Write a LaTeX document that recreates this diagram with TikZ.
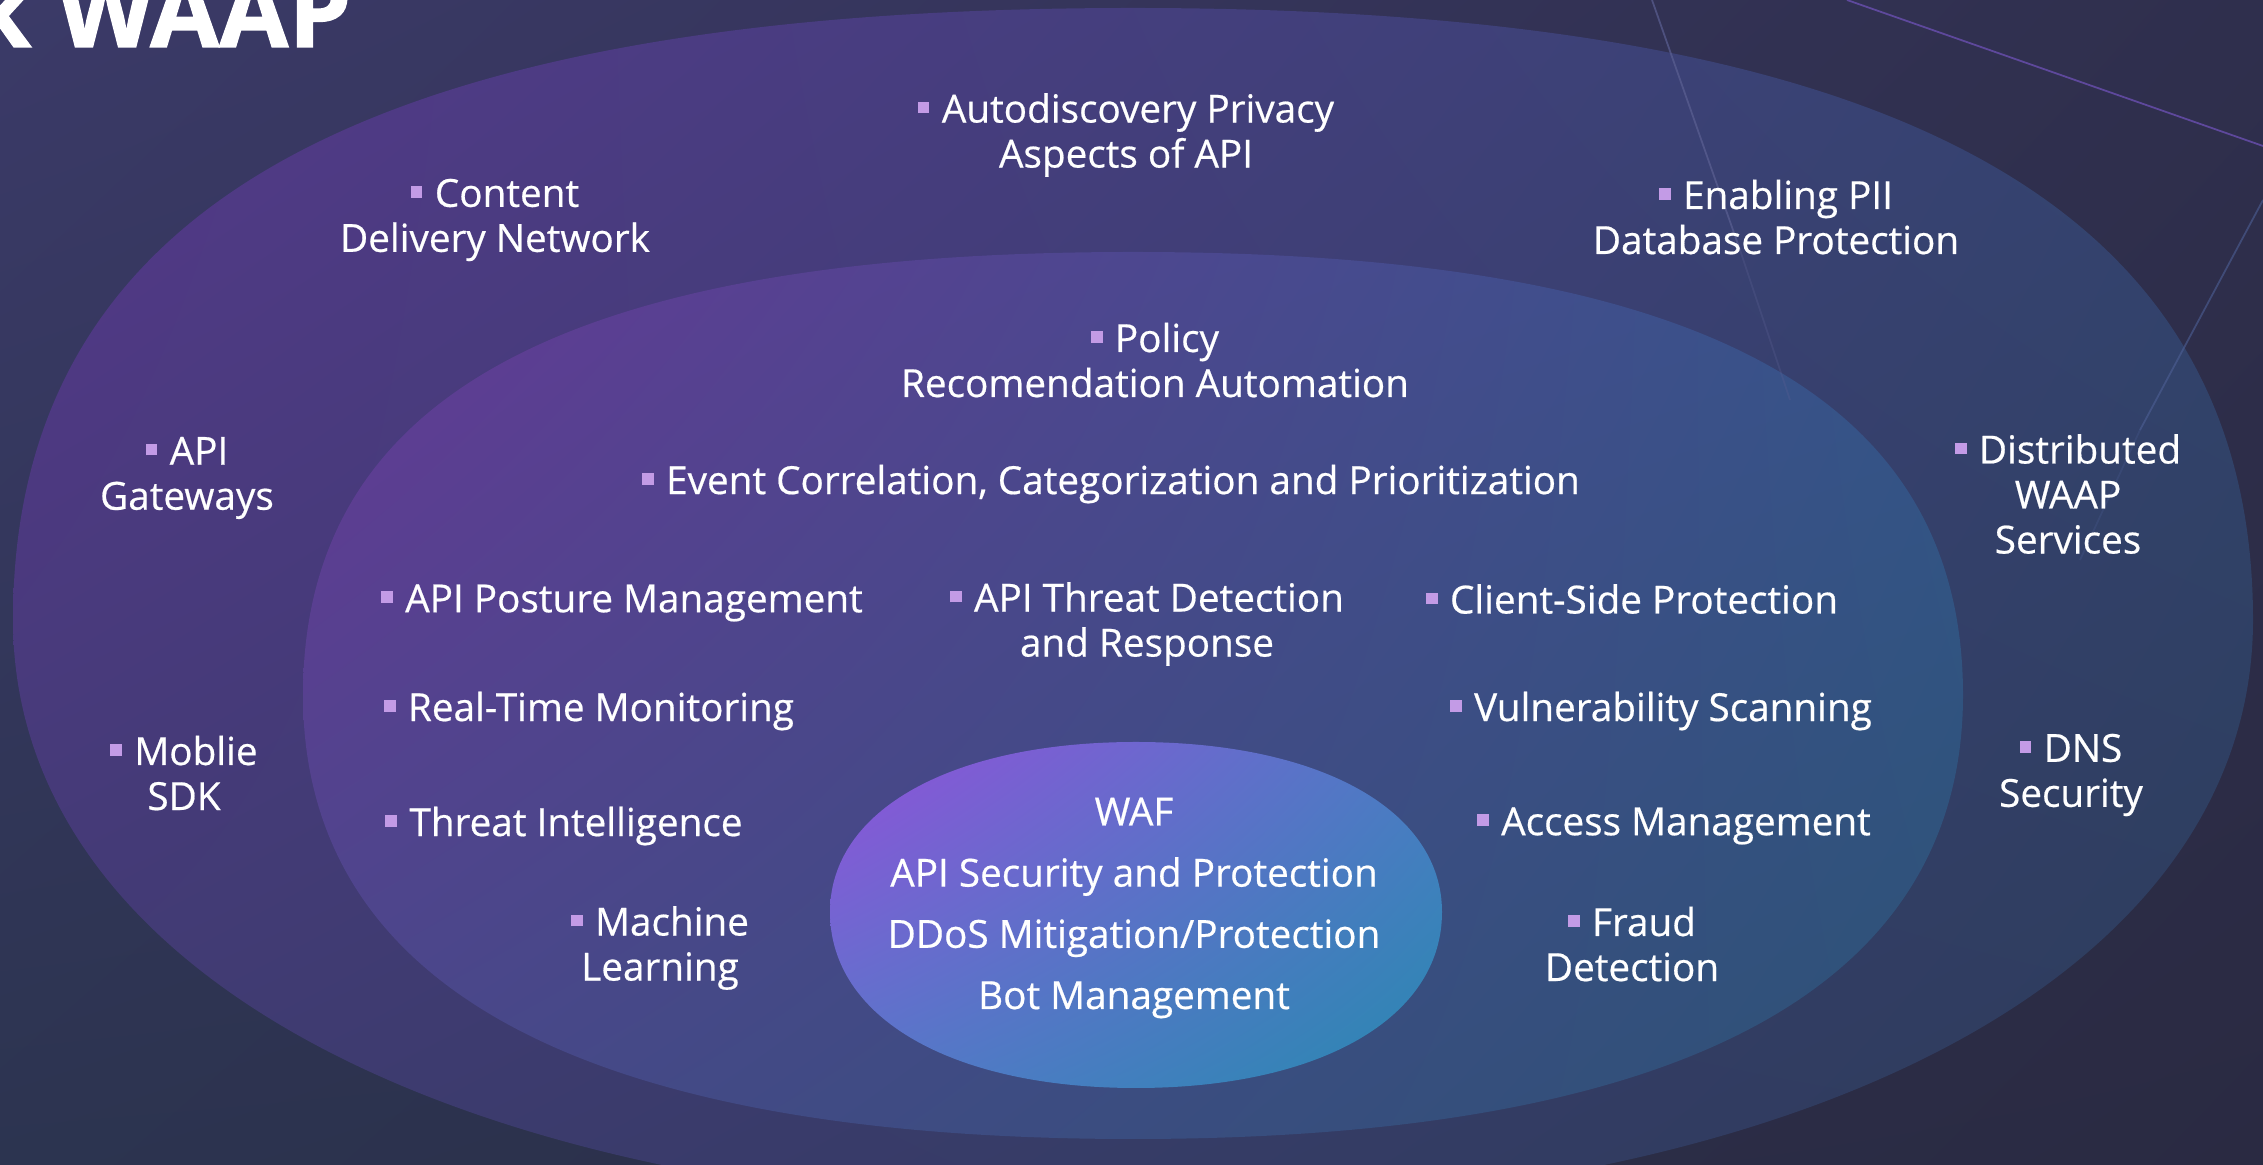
\documentclass[tikz,border=0pt]{standalone}
\usepackage{fontspec}
\setmainfont{Open Sans}
\newfontfamily\lblfont{Open Sans}[FakeBold=0.5]
\newfontfamily\ttlfont{Open Sans Bold}[FakeBold=1.2]
\usetikzlibrary{shadings}
\definecolor{bulletc}{HTML}{C39BE6}
\definecolor{bgUL}{HTML}{3B3A68}
\definecolor{bgUR}{HTML}{2F2F4D}
\definecolor{bgLL}{HTML}{2C3450}
\definecolor{bgLR}{HTML}{2A2A42}
\definecolor{oUL}{HTML}{56388B}
\definecolor{oUR}{HTML}{334570}
\definecolor{oLL}{HTML}{3E3B70}
\definecolor{oLR}{HTML}{2C3C5A}
\definecolor{mUL}{HTML}{653995}
\definecolor{mUR}{HTML}{35558A}
\definecolor{mLL}{HTML}{48488A}
\definecolor{mLR}{HTML}{2C5275}
\definecolor{iUL}{HTML}{9250DA}
\definecolor{iUR}{HTML}{4C7CC4}
\definecolor{iLL}{HTML}{5878CA}
\definecolor{iLR}{HTML}{2888B0}
\definecolor{lineA}{HTML}{5B5F92}
\definecolor{lineB}{HTML}{6A4FB0}
\definecolor{lineC}{HTML}{4D5F95}
\newcommand{\bul}{{\color{bulletc}\rule[0.24em]{0.3em}{0.3em}}\hspace{0.32em}}
\begin{document}
\begin{tikzpicture}[x=0.01cm,y=-0.01cm,
  lbl/.style={text=white, align=center, inner sep=0pt,
    font=\lblfont\fontsize{11pt}{12.8pt}\selectfont},
  core/.style={text=white, align=center, inner sep=0pt,
    font=\lblfont\fontsize{11pt}{17.4pt}\selectfont},
  deco/.style={line width=0.5pt}]
\useasboundingbox (0,0) rectangle (2263,1165);
\clip (0,0) rectangle (2263,1165);
% background
\shade[upper left=bgUL, upper right=bgUR, lower left=bgLL, lower right=bgLR]
  (0,0) rectangle (2263,1165);
% title
\node[anchor=base east, text=white, inner sep=0pt,
  font=\ttlfont\fontsize{28.5pt}{30pt}\selectfont] (title) at (352,47) {k WAAP};
% outer shape
\shade[upper left=oUL, upper right=oUR, lower left=oLL, lower right=oLR]
  (1133,8) .. controls (1895,8) and (2253,204) .. (2253,620)
  .. controls (2253,974) and (1805,1210) .. (1133,1210)
  .. controls (461,1210) and (13,974) .. (13,620)
  .. controls (13,204) and (371,8) .. cycle;
% middle shape
\shade[upper left=mUL, upper right=mUR, lower left=mLL, lower right=mLR]
  (1133,252) .. controls (1697,252) and (1963,394) .. (1963,695)
  .. controls (1963,988) and (1681,1139) .. (1133,1139)
  .. controls (585,1139) and (303,988) .. (303,695)
  .. controls (303,394) and (569,252) .. cycle;
% inner shape
\shade[upper left=iUL, upper right=iUR, lower left=iLL, lower right=iLR]
  (1136,742) .. controls (1320,742) and (1442,810) .. (1442,912)
  .. controls (1442,1018) and (1320,1088) .. (1136,1088)
  .. controls (952,1088) and (830,1018) .. (830,912)
  .. controls (830,810) and (952,742) .. cycle;
% decorative lines
\draw[deco, draw=lineA, opacity=0.7] (1652,0) -- (1740,250);
\draw[deco, draw=lineA, opacity=0.3] (1740,250) -- (1790,400);
\draw[deco, draw=lineB, opacity=0.8] (1847,0) -- (2263,146);
\draw[deco, draw=lineC, opacity=0.6] (2263,200) -- (2140,430);
\draw[deco, draw=lineC, opacity=0.25] (2140,430) -- (2080,560);
% outer ring labels
\node[lbl] (auto) at (1126,135) {\bul Autodiscovery Privacy\\Aspects of API};
\node[lbl] (cdn) at (495,220) {\bul Content\\Delivery Network};
\node[lbl] (pii) at (1776,217) {\bul Enabling PII\\Database Protection};
\node[lbl] (gw) at (187,478) {\bul API\\Gateways};
\node[lbl] (dist) at (2068,494) {\bul Distributed\\WAAP\\Services};
\node[lbl] (sdk) at (184,773) {\bul Moblie\\SDK};
\node[lbl] (dns) at (2071,775) {\bul DNS\\Security};
% middle ring labels
\node[lbl] (pol) at (1155,360) {\bul Policy\\Recomendation Automation};
\node[lbl] (evt) at (1111,484) {\bul Event Correlation, Categorization and Prioritization};
\node[lbl] (post) at (622,603) {\bul API Posture Management};
\node[lbl] (thr) at (1147,624) {\bul API Threat Detection\\and Response};
\node[lbl] (csp) at (1632,599) {\bul Client-Side Protection};
\node[lbl] (rtm) at (589,711) {\bul Real-Time Monitoring};
\node[lbl] (vul) at (1661,711) {\bul Vulnerability Scanning};
\node[lbl] (ti) at (564,826) {\bul Threat Intelligence};
\node[lbl] (acc) at (1674,826) {\bul Access Management};
\node[lbl] (ml) at (660,948) {\bul Machine\\Learning};
\node[lbl] (fraud) at (1632,944) {\bul Fraud\\Detection};
% core labels
\node[core] (waf) at (1134,908) {WAF\\API Security and Protection\\DDoS Mitigation/Protection\\Bot Management};
\end{tikzpicture}
\end{document}
